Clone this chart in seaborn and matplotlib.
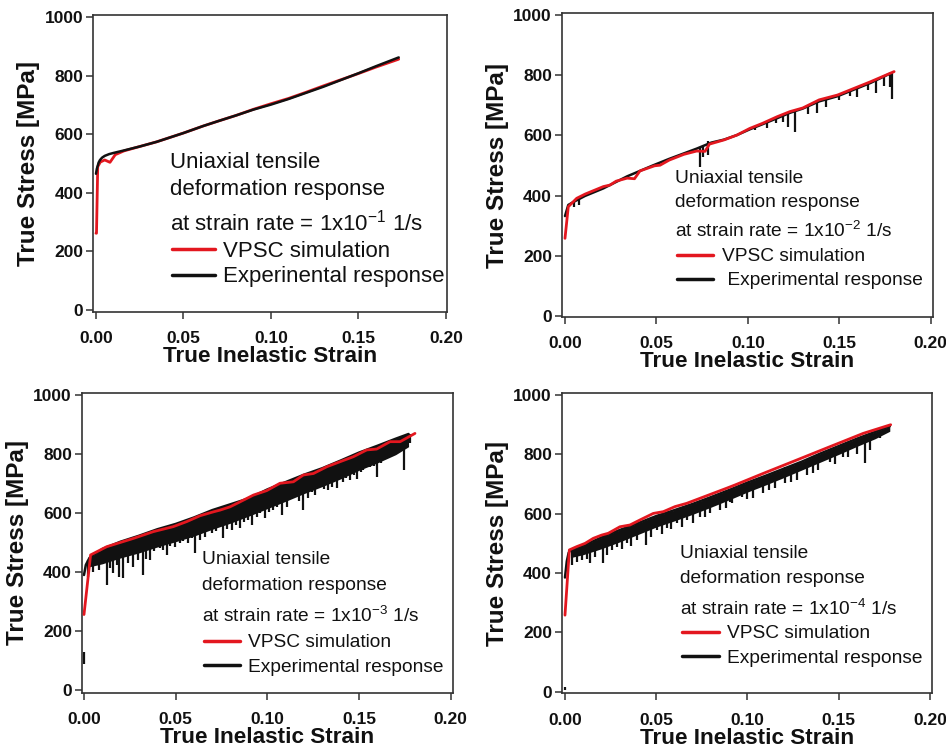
import matplotlib
matplotlib.use("Agg")
import matplotlib.pyplot as plt
import seaborn as sns

W, H = 946, 749

# ---------------- data ----------------
# panel 1 : 1x10^-1 1/s
p1_sim_x = [0.0, 0.0003, 0.001, 0.0025, 0.005, 0.008, 0.011, 0.016, 0.025, 0.0347, 0.05, 0.0613, 0.07,
            0.08, 0.09, 0.10, 0.11, 0.12, 0.13, 0.14, 0.15, 0.16, 0.173]
p1_sim_y = [262, 262, 489, 505, 512, 504, 530, 543, 558, 574, 604, 628, 645, 664, 685, 704, 722, 743,
            765, 786, 807, 829, 856]
p1_exp_x = [0.0, 0.0005, 0.001, 0.0015, 0.0023, 0.0035, 0.005, 0.0075, 0.01, 0.0156, 0.025, 0.0347,
            0.05, 0.0613, 0.07, 0.08, 0.09, 0.10, 0.11, 0.12, 0.13, 0.14, 0.15, 0.16, 0.173]
p1_exp_y = [465, 482, 492, 503, 512, 520, 526, 532, 536, 544, 558, 574, 604, 628, 645, 664, 684, 701,
            720, 741, 762, 785, 808, 832, 862]

# panel 2 : 1x10^-2 1/s
p2_sim_x = [0.0, 0.0018, 0.0064, 0.011, 0.021, 0.0246, 0.028, 0.034, 0.038, 0.041, 0.049, 0.052, 0.057,
            0.065, 0.072, 0.0766, 0.079, 0.087, 0.094, 0.101, 0.108, 0.116, 0.123, 0.130, 0.139, 0.149,
            0.158, 0.167, 0.180]
p2_sim_y = [258, 363, 391, 405, 430, 435, 448, 458, 456, 482, 499, 501, 518, 537, 548, 547, 571, 585,
            601, 623, 640, 662, 679, 691, 718, 734, 756, 778, 812]
p2_exp_x = [0.0, 0.0018, 0.005, 0.011, 0.021, 0.034, 0.048, 0.057, 0.072, 0.080, 0.087, 0.094, 0.101,
            0.108, 0.116, 0.123, 0.130, 0.139, 0.149, 0.158, 0.167, 0.178]
p2_exp_y = [332, 369, 380, 399, 424, 464, 500, 522, 556, 576, 586, 601, 620, 637, 657, 675, 689, 713,
            730, 752, 774, 806]
p2_spk_x = [0.005, 0.0075, 0.0738, 0.0757, 0.0784, 0.104, 0.1105, 0.1154, 0.1194, 0.122, 0.1258, 0.133,
            0.138, 0.143, 0.150, 0.156, 0.1595, 0.1655, 0.170, 0.1745, 0.1777, 0.179]
p2_spk_lo = [362, 368, 496, 529, 535, 618, 625, 640, 645, 629, 612, 670, 673, 695, 718, 730, 729, 751,
             742, 765, 762, 721]
p2_spk_hi = [382, 390, 562, 565, 580, 632, 645, 660, 668, 672, 680, 695, 712, 722, 736, 750, 758, 775,
             785, 795, 805, 810]

# panel 3 : 1x10^-3 1/s
p3_sim_x = [0.0, 0.0036, 0.0124, 0.0269, 0.0378, 0.0487, 0.056, 0.0633, 0.0705, 0.0742, 0.0796, 0.0851,
            0.0924, 0.0996, 0.1069, 0.1142, 0.1196, 0.1251, 0.1324, 0.1396, 0.1469, 0.1542, 0.1596,
            0.1669, 0.1724, 0.1805]
p3_sim_y = [256, 458, 486, 514, 537, 554, 571, 591, 604, 610, 621, 638, 661, 676, 701, 706, 729, 734,
            757, 774, 791, 814, 817, 842, 842, 870]
p3_exp_x = [0.0, 0.001, 0.0024, 0.003, 0.01, 0.02, 0.03, 0.04, 0.05, 0.06, 0.07, 0.08, 0.09, 0.10,
            0.11, 0.12, 0.13, 0.14, 0.15, 0.16, 0.17, 0.177]
p3_exp_hi = [390, 424, 441, 448, 478, 503, 523, 545, 563, 585, 610, 630, 650, 680, 705, 730, 752, 778,
             805, 828, 852, 868]
p3_band_x = [0.003, 0.01, 0.02, 0.03, 0.04, 0.05, 0.06, 0.07, 0.08, 0.09, 0.10, 0.11, 0.12, 0.13,
             0.14, 0.15, 0.16, 0.17, 0.177]
p3_band_hi = [448, 478, 503, 523, 545, 563, 585, 610, 630, 650, 680, 705, 730, 752, 778, 805, 828,
              852, 868]
p3_band_lo = [418, 428, 448, 465, 485, 503, 522, 545, 566, 590, 615, 640, 666, 690, 716, 745, 770,
              798, 825]
p3_spk_x = [0.0, 0.0024, 0.0051, 0.0084, 0.0124, 0.016, 0.0193, 0.0215, 0.0269, 0.0296, 0.0324, 0.036,
            0.0415, 0.0451, 0.0496, 0.0524, 0.0569, 0.0605, 0.0633, 0.0696, 0.076, 0.0805, 0.0851,
            0.0896, 0.0915, 0.0942, 0.0987, 0.1032, 0.1078, 0.1105, 0.1133, 0.1196, 0.1242, 0.1287,
            0.1333, 0.1378, 0.1414, 0.1451, 0.1487, 0.1523, 0.156, 0.1596, 0.1642, 0.1687, 0.1714,
            0.1747, 0.1778,
            0.0035, 0.0105, 0.014, 0.0178, 0.024, 0.034, 0.038, 0.043, 0.047, 0.054, 0.059, 0.066,
            0.072, 0.078, 0.083, 0.087, 0.096, 0.101, 0.105, 0.117, 0.122, 0.126, 0.131, 0.135,
            0.143, 0.147, 0.151, 0.158, 0.162, 0.166, 0.173]
p3_spk_lo = [88, 384, 401, 407, 356, 396, 384, 379, 418, 441, 390, 441, 480, 458, 486, 497, 497, 463,
             508, 531, 514, 542, 548, 576, 559, 587, 582, 610, 593, 621, 655, 610, 672, 695, 678, 684,
             706, 712, 717, 746, 757, 723, 791, 808, 819, 746, 836,
             420, 430, 415, 425, 430, 445, 470, 475, 490, 505, 515, 520, 540, 545, 560, 570, 600, 605,
             620, 640, 650, 660, 680, 690, 720, 730, 740, 760, 770, 790, 810]
p3_spk_hi = [128, 440, 458, 470, 482, 490, 500, 504, 515, 520, 528, 535, 546, 552, 562, 567, 578, 586,
             592, 608, 622, 631, 640, 649, 655, 662, 676, 687, 698, 705, 710, 728, 738, 748, 760, 772,
             782, 792, 802, 810, 818, 828, 840, 850, 856, 862, 868,
             450, 478, 486, 495, 510, 532, 540, 550, 558, 572, 582, 600, 614, 628, 636, 644, 668, 682,
             692, 722, 733, 743, 755, 765, 787, 797, 806, 822, 835, 845, 860]

# panel 4 : 1x10^-4 1/s
p4_sim_x = [0.0, 0.0024, 0.0064, 0.011, 0.0155, 0.0201, 0.0237, 0.0301, 0.0356, 0.0411, 0.0484, 0.0539,
            0.0603, 0.0667, 0.074, 0.0813, 0.0886, 0.0932, 0.1087, 0.127, 0.1452, 0.1635, 0.1785]
p4_sim_y = [258, 478, 489, 500, 517, 528, 534, 556, 562, 579, 601, 607, 624, 635, 652, 669, 686, 697,
            736, 781, 826, 871, 900]
p4_exp_x = [0.0, 0.001, 0.002, 0.003, 0.01, 0.02, 0.03, 0.04, 0.05, 0.06, 0.07, 0.08, 0.09, 0.10,
            0.11, 0.12, 0.13, 0.14, 0.15, 0.16, 0.17, 0.178]
p4_exp_hi = [385, 440, 468, 478, 492, 520, 545, 568, 592, 612, 633, 656, 680, 705, 728, 752, 776, 803,
             828, 853, 876, 895]
p4_band_x = [0.003, 0.01, 0.02, 0.03, 0.04, 0.05, 0.06, 0.07, 0.08, 0.09, 0.10, 0.11, 0.12, 0.13,
             0.14, 0.15, 0.16, 0.17, 0.178]
p4_band_hi = [478, 492, 520, 545, 568, 592, 612, 633, 656, 680, 705, 728, 752, 776, 803, 828, 853, 876,
              895]
p4_band_lo = [452, 462, 482, 505, 530, 555, 576, 598, 622, 647, 673, 697, 722, 748, 774, 800, 827, 853,
              878]
p4_spk_x = [0.0, 0.0037, 0.0064, 0.0091, 0.0137, 0.0164, 0.0206, 0.0256, 0.0283, 0.0338, 0.0393,
            0.0444, 0.0502, 0.0557, 0.0612, 0.0667, 0.074, 0.0795, 0.0849, 0.0904, 0.0913, 0.0968,
            0.1032, 0.1087, 0.1151, 0.1205, 0.127, 0.1324, 0.1388, 0.1452, 0.1525, 0.1598, 0.1644,
            0.1671, 0.1726, 0.1772,
            0.012, 0.023, 0.031, 0.036, 0.047, 0.053, 0.058, 0.064, 0.070, 0.077, 0.088, 0.100,
            0.112, 0.124, 0.136, 0.148, 0.155]
p4_spk_lo = [6, 427, 438, 444, 433, 455, 433, 478, 489, 500, 511, 494, 545, 551, 568, 579, 590, 601,
             612, 640, 635, 657, 652, 669, 686, 702, 714, 730, 747, 775, 792, 803, 770, 815, 854, 876,
             448, 462, 480, 492, 520, 532, 548, 556, 570, 588, 618, 650, 680, 708, 738, 768, 790]
p4_spk_hi = [17, 478, 482, 490, 505, 512, 522, 535, 542, 552, 565, 580, 593, 603, 615, 627, 640, 655,
             668, 680, 682, 700, 713, 726, 742, 756, 770, 784, 800, 816, 834, 852, 862, 868, 882, 893,
             500, 528, 548, 558, 586, 598, 608, 620, 633, 648, 675, 705, 733, 762, 792, 822, 840]

rates = ["-1", "-2", "-3", "-4"]
exp_labels = ["Experinental response", " Experimental response", "Experimental response",
              "Experimental response"]

# ---------------- layout (pixels) ----------------
axes_px = [(93, 15, 447, 312), (561.7, 13.3, 932.7, 317), (81.7, 392.7, 453.3, 692.7),
           (561.7, 392.7, 932.3, 693.3)]
xlims = [(-0.0017, 0.2006), (-0.0018, 0.2011), (-0.00125, 0.2014), (-0.0018, 0.2013)]
ylims = [(-6.8, 1006.8), (-3.3, 1005.6), (-9, 1008), (-5.4, 1008)]
text_fs = [16, 13.8, 13.8, 13.8]
text_x = [170, 675, 202, 680]
text_base = [(168, 195, 230), (183, 207, 237), (564, 590, 622), (558, 583, 615)]
leg_anchor = [(172, 241), (677, 248), (204, 634), (682, 625)]
leg_hlen = [1.94, 1.88, 1.88, 1.92]
leg_pad = [0.36, 0.45, 0.42, 0.42]
leg_space = [0.2, 0.34, 0.38, 0.38]

RED = "#e3171f"
BLK = "#111111"

sns.set_style("ticks")
plt.rcParams["font.family"] = ["Liberation Sans", "DejaVu Sans"]
plt.rcParams["mathtext.default"] = "regular"
plt.rcParams["axes.edgecolor"] = "#333333"
plt.rcParams["axes.linewidth"] = 1.2
plt.rcParams["text.color"] = "#111111"
plt.rcParams["axes.labelcolor"] = "#111111"
plt.rcParams["xtick.labelcolor"] = "#111111"
plt.rcParams["ytick.labelcolor"] = "#111111"

fig = plt.figure(figsize=(W / 100, H / 100), dpi=100)


def fx(x):
    return x / W


def fy(y):
    return 1 - y / H


panels = [
    (p1_sim_x, p1_sim_y, p1_exp_x, p1_exp_y, None, None),
    (p2_sim_x, p2_sim_y, p2_exp_x, p2_exp_y, None, (p2_spk_x, p2_spk_lo, p2_spk_hi)),
    (p3_sim_x, p3_sim_y, p3_exp_x, p3_exp_hi, (p3_band_x, p3_band_lo, p3_band_hi),
     (p3_spk_x, p3_spk_lo, p3_spk_hi)),
    (p4_sim_x, p4_sim_y, p4_exp_x, p4_exp_hi, (p4_band_x, p4_band_lo, p4_band_hi),
     (p4_spk_x, p4_spk_lo, p4_spk_hi)),
]

for i, (sx, sy, ex, ey, band, spikes) in enumerate(panels):
    l, t, r, b = axes_px[i]
    ax = fig.add_axes([fx(l), fy(b), (r - l) / W, (b - t) / H])

    exp_z = 4 if i == 0 else 2
    if band is not None:
        ax.fill_between(band[0], band[1], band[2], color=BLK, lw=0, zorder=1)
    if spikes is not None:
        ax.vlines(spikes[0], spikes[1], spikes[2], color=BLK, lw=1.6, zorder=1)
    sns.lineplot(x=ex, y=ey, ax=ax, color=BLK, lw=1.8, sort=False, estimator=None, zorder=exp_z)
    exp_line = ax.lines[-1]
    sns.lineplot(x=sx, y=sy, ax=ax, color=RED, lw=2.0, sort=False, estimator=None, zorder=3)
    sim_line = ax.lines[-1]

    ax.set_xlim(*xlims[i])
    ax.set_ylim(*ylims[i])
    ax.set_xticks([0.0, 0.05, 0.10, 0.15, 0.20])
    ax.set_xticklabels(["0.00", "0.05", "0.10", "0.15", "0.20"])
    ax.set_yticks([0, 200, 400, 600, 800, 1000])
    ax.tick_params(axis="x", direction="out", length=5, width=1.1, pad=9, labelsize=12.5,
                   color="#333333")
    ax.tick_params(axis="y", direction="out", length=5, width=1.1, pad=2, labelsize=12.5,
                   color="#333333")
    for lab in ax.get_xticklabels() + ax.get_yticklabels():
        lab.set_fontweight("bold")
    ax.set_xlabel("True Inelastic Strain", fontsize=16.2, fontweight="bold", labelpad=0)
    ax.set_ylabel("True Stress [MPa]", fontsize=17.5, fontweight="bold", labelpad=3)

    b1, b2, b3 = text_base[i]
    tx = fx(text_x[i])
    fs = text_fs[i]
    fig.text(tx, fy(b1), "Uniaxial tensile", fontsize=fs, va="baseline")
    fig.text(tx, fy(b2), "deformation response", fontsize=fs, va="baseline")
    fig.text(tx, fy(b3), "at strain rate = 1x10$^{%s}$ 1/s" % rates[i], fontsize=fs,
             va="baseline")

    ax.legend([sim_line, exp_line], ["VPSC simulation", exp_labels[i]], loc="upper left",
              bbox_to_anchor=(fx(leg_anchor[i][0]), fy(leg_anchor[i][1])),
              bbox_transform=fig.transFigure, frameon=False, fontsize=fs, borderpad=0,
              borderaxespad=0, handlelength=leg_hlen[i], handletextpad=leg_pad[i],
              labelspacing=leg_space[i])
    for ln in ax.get_legend().get_lines():
        ln.set_linewidth(2.5)

fig.savefig("out.png", dpi=100)
